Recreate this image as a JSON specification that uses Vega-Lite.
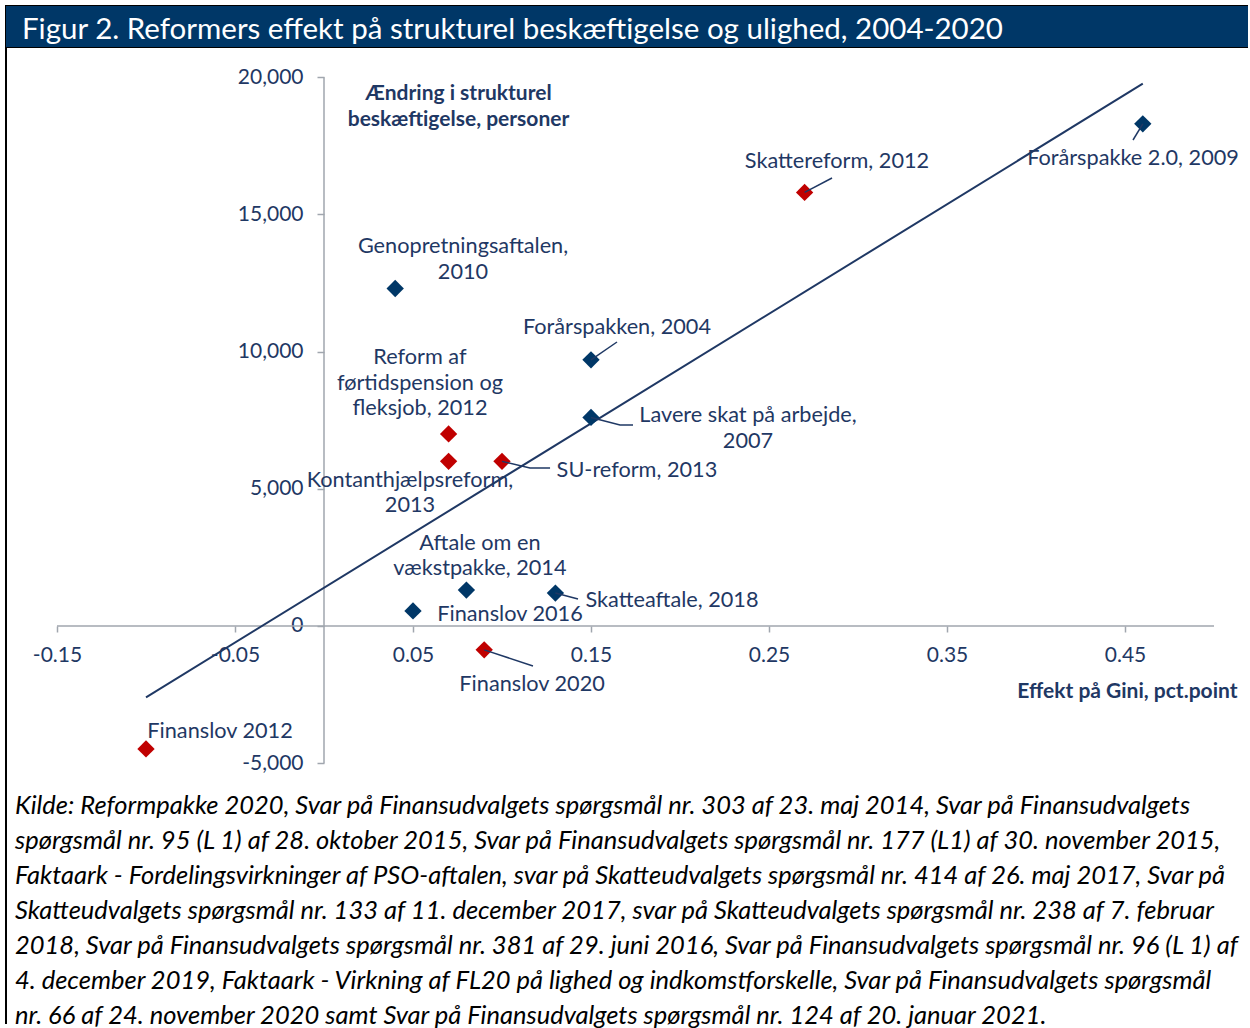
{
  "$schema": "https://vega.github.io/schema/vega-lite/v6.json",
  "background": "white",
  "padding": {"left": 5, "top": 5, "right": 0, "bottom": 0},
  "spacing": 0,
  "bounds": "flush",
  "config": {"font": "Lato", "view": {"stroke": null}},
  "datasets": {
    "reformer": [
      {"navn": "Finanslov 2012", "gini": -0.10, "beskaeftigelse": -4480, "gruppe": "rød", "etiket": "Finanslov 2012", "etiket_gini": -0.0584, "etiket_beskaeftigelse": -3827},
      {"navn": "Skattereform, 2012", "gini": 0.27, "beskaeftigelse": 15800, "gruppe": "rød", "etiket": "Skattereform, 2012", "etiket_gini": 0.2882, "etiket_beskaeftigelse": 16946},
      {"navn": "Forårspakke 2.0, 2009", "gini": 0.46, "beskaeftigelse": 18300, "gruppe": "blå", "etiket": "Forårspakke 2.0, 2009", "etiket_gini": 0.4545, "etiket_beskaeftigelse": 17055},
      {"navn": "Genopretningsaftalen, 2010", "gini": 0.04, "beskaeftigelse": 12300, "gruppe": "blå", "etiket": "Genopretningsaftalen,\n2010", "etiket_gini": 0.0781, "etiket_beskaeftigelse": 13848},
      {"navn": "Forårspakken, 2004", "gini": 0.15, "beskaeftigelse": 9700, "gruppe": "blå", "etiket": "Forårspakken, 2004", "etiket_gini": 0.1646, "etiket_beskaeftigelse": 10896},
      {"navn": "Lavere skat på arbejde, 2007", "gini": 0.15, "beskaeftigelse": 7600, "gruppe": "blå", "etiket": "Lavere skat på arbejde,\n2007", "etiket_gini": 0.2382, "etiket_beskaeftigelse": 7689},
      {"navn": "Reform af førtidspension og fleksjob, 2012", "gini": 0.07, "beskaeftigelse": 7000, "gruppe": "rød", "etiket": "Reform af\nførtidspension og\nfleksjob, 2012", "etiket_gini": 0.0539, "etiket_beskaeftigelse": 9803},
      {"navn": "Kontanthjælpsreform, 2013", "gini": 0.07, "beskaeftigelse": 6000, "gruppe": "rød", "etiket": "Kontanthjælpsreform,\n2013", "etiket_gini": 0.0483, "etiket_beskaeftigelse": 5321},
      {"navn": "SU-reform, 2013", "gini": 0.10, "beskaeftigelse": 6000, "gruppe": "rød", "etiket": "SU-reform, 2013", "etiket_gini": 0.1758, "etiket_beskaeftigelse": 5685},
      {"navn": "Aftale om en vækstpakke, 2014", "gini": 0.08, "beskaeftigelse": 1310, "gruppe": "blå", "etiket": "Aftale om en\nvækstpakke, 2014", "etiket_gini": 0.0876, "etiket_beskaeftigelse": 3025},
      {"navn": "Skatteaftale, 2018", "gini": 0.13, "beskaeftigelse": 1200, "gruppe": "blå", "etiket": "Skatteaftale, 2018", "etiket_gini": 0.1955, "etiket_beskaeftigelse": 948},
      {"navn": "Finanslov 2016", "gini": 0.05, "beskaeftigelse": 550, "gruppe": "blå", "etiket": "Finanslov 2016", "etiket_gini": 0.1045, "etiket_beskaeftigelse": 437},
      {"navn": "Finanslov 2020", "gini": 0.09, "beskaeftigelse": -870, "gruppe": "rød", "etiket": "Finanslov 2020", "etiket_gini": 0.1169, "etiket_beskaeftigelse": -2114}
    ],
    "ledere": [
      {"navn": "Skattereform, 2012", "trin": 0, "gini": 0.27, "beskaeftigelse": 15800},
      {"navn": "Skattereform, 2012", "trin": 1, "gini": 0.2854, "beskaeftigelse": 16326},
      {"navn": "Forårspakke 2.0, 2009", "trin": 0, "gini": 0.46, "beskaeftigelse": 18300},
      {"navn": "Forårspakke 2.0, 2009", "trin": 1, "gini": 0.4545, "beskaeftigelse": 17711},
      {"navn": "Forårspakken, 2004", "trin": 0, "gini": 0.15, "beskaeftigelse": 9700},
      {"navn": "Forårspakken, 2004", "trin": 1, "gini": 0.1646, "beskaeftigelse": 10350},
      {"navn": "Lavere skat på arbejde, 2007", "trin": 0, "gini": 0.15, "beskaeftigelse": 7600},
      {"navn": "Lavere skat på arbejde, 2007", "trin": 1, "gini": 0.1663, "beskaeftigelse": 7325},
      {"navn": "Lavere skat på arbejde, 2007", "trin": 2, "gini": 0.1736, "beskaeftigelse": 7325},
      {"navn": "SU-reform, 2013", "trin": 0, "gini": 0.10, "beskaeftigelse": 6000},
      {"navn": "SU-reform, 2013", "trin": 1, "gini": 0.1157, "beskaeftigelse": 5758},
      {"navn": "SU-reform, 2013", "trin": 2, "gini": 0.127, "beskaeftigelse": 5758},
      {"navn": "Skatteaftale, 2018", "trin": 0, "gini": 0.13, "beskaeftigelse": 1200},
      {"navn": "Skatteaftale, 2018", "trin": 1, "gini": 0.1427, "beskaeftigelse": 984},
      {"navn": "Finanslov 2020", "trin": 0, "gini": 0.09, "beskaeftigelse": -870},
      {"navn": "Finanslov 2020", "trin": 1, "gini": 0.1174, "beskaeftigelse": -1458}
    ],
    "akser": [
      {"akse": "x", "gini": -0.15, "gini_slut": 0.5, "beskaeftigelse": 0, "beskaeftigelse_slut": 0},
      {"akse": "y", "gini": 0, "gini_slut": 0, "beskaeftigelse": -5000, "beskaeftigelse_slut": 20000}
    ],
    "overskrift": [{"tekst": "Figur 2. Reformers effekt på strukturel beskæftigelse og ulighed, 2004-2020"}],
    "kilde": [{"tekst": "Kilde"}]
  },
  "vconcat": [
    {
      "width": 1242,
      "height": 41,
      "data": {"name": "overskrift"},
      "view": {"fill": "#003767", "stroke": "black", "strokeWidth": 2, "strokeDash": [1242, 41, 1283]},
      "mark": {"type": "rect", "color": "#003767"},
      "encoding": {},
      "title": {
        "text": "Figur 2. Reformers effekt på strukturel beskæftigelse og ulighed, 2004-2020",
        "orient": "bottom", "anchor": "start", "frame": "group", "offset": -17, "baseline": "middle", "dx": 16,
        "color": "white", "font": "Lato", "fontSize": 29.5, "fontWeight": "normal"
      }
    },
    {
      "width": 1242,
      "height": 736,
      "view": {"stroke": "black", "strokeWidth": 2, "strokeDash": [0, 3220, 736]},
      "encoding": {
        "x": {
          "field": "gini", "type": "quantitative",
          "scale": {"domain": [-0.17865, 0.5191], "nice": false, "zero": false},
          "axis": {
            "orient": "bottom", "offset": -157, "values": [-0.15, -0.05, 0.05, 0.15, 0.25, 0.35, 0.45],
            "domain": false, "grid": false, "tickSize": 6, "tickWidth": 1.5, "tickColor": "#A0A6AE",
            "labelExpr": "replace(format(datum.value, '.2f'), '\u2212', '-')",
            "labelFont": "Lato", "labelFontSize": 21, "labelColor": "#1F3864", "labelPadding": 12,
            "labelOverlap": false, "labelFlush": false,
            "title": "Effekt på Gini, pct.point", "titleX": 1231, "titleY": 65, "titleAlign": "right", "titleBaseline": "middle",
            "titleFont": "Lato", "titleFontSize": 21, "titleFontWeight": "bold", "titleColor": "#1F3864"
          }
        },
        "y": {
          "field": "beskaeftigelse", "type": "quantitative",
          "scale": {"domain": [-5721.6, 21100.5], "nice": false, "zero": false},
          "axis": {
            "orient": "left", "offset": -318, "values": [-5000, 0, 5000, 10000, 15000, 20000],
            "domain": false, "grid": false, "tickSize": 7, "tickWidth": 1.5, "tickColor": "#A0A6AE",
            "labelExpr": "replace(format(datum.value, ','), '\u2212', '-')",
            "labelFont": "Lato", "labelFontSize": 21, "labelColor": "#1F3864", "labelPadding": 14, "labelOverlap": false,
            "title": ["Ændring i strukturel", "beskæftigelse, personer"],
            "titleX": 134, "titleY": 46, "titleAngle": 0, "titleAlign": "center", "titleBaseline": "middle",
            "titleFont": "Lato", "titleFontSize": 21, "titleFontWeight": "bold", "titleColor": "#1F3864", "titleLineHeight": 26
          }
        }
      },
      "layer": [
        {
          "data": {"name": "akser"},
          "mark": {"type": "rule", "color": "#A0A6AE", "strokeWidth": 1.5},
          "encoding": {
            "x2": {"field": "gini_slut"},
            "y2": {"field": "beskaeftigelse_slut"}
          }
        },
        {
          "data": {"name": "reformer"},
          "transform": [{"regression": "beskaeftigelse", "on": "gini", "extent": [-0.1, 0.46]}],
          "mark": {"type": "line", "color": "#1F3864", "strokeWidth": 2},
          "encoding": {}
        },
        {
          "data": {"name": "reformer"},
          "mark": {"type": "point", "shape": "diamond", "filled": true, "size": 300, "opacity": 1, "strokeWidth": 0},
          "encoding": {
            "color": {"field": "gruppe", "type": "nominal", "scale": {"domain": ["blå", "rød"], "range": ["#003767", "#C00000"]}, "legend": null}
          }
        },
        {
          "data": {"name": "ledere"},
          "mark": {"type": "line", "color": "#1F3864", "strokeWidth": 1.5},
          "encoding": {
            "detail": {"field": "navn", "type": "nominal"},
            "order": {"field": "trin", "type": "ordinal"}
          }
        },
        {
          "data": {"name": "reformer"},
          "mark": {"type": "text", "font": "Lato", "fontSize": 21.7, "color": "#1F3864", "align": "center", "baseline": "middle", "lineBreak": "\n", "lineHeight": 25.5},
          "encoding": {
            "x": {"field": "etiket_gini", "type": "quantitative", "scale": {"domain": [-0.17865, 0.5191], "nice": false, "zero": false}},
            "y": {"field": "etiket_beskaeftigelse", "type": "quantitative", "scale": {"domain": [-5721.6, 21100.5], "nice": false, "zero": false}},
            "text": {"field": "etiket", "type": "nominal"}
          }
        }
      ]
    },
    {
      "width": 1242,
      "height": 241,
      "data": {"name": "kilde"},
      "view": {"stroke": "black", "strokeWidth": 2, "strokeDash": [0, 2725, 241]},
      "mark": {"type": "rect", "opacity": 0},
      "encoding": {},
      "title": {
        "text": [
          "Kilde: Reformpakke 2020, Svar på Finansudvalgets spørgsmål nr. 303 af 23. maj 2014, Svar på Finansudvalgets",
          "spørgsmål nr. 95 (L 1) af 28. oktober 2015, Svar på Finansudvalgets spørgsmål nr. 177 (L1) af 30. november 2015,",
          "Faktaark - Fordelingsvirkninger af PSO-aftalen, svar på Skatteudvalgets spørgsmål nr. 414 af 26. maj 2017, Svar på",
          "Skatteudvalgets spørgsmål nr. 133 af 11. december 2017, svar på Skatteudvalgets spørgsmål nr. 238 af 7. februar",
          "2018, Svar på Finansudvalgets spørgsmål nr. 381 af 29. juni 2016, Svar på Finansudvalgets spørgsmål nr. 96 (L 1) af",
          "4. december 2019, Faktaark - Virkning af FL20 på lighed og indkomstforskelle, Svar på Finansudvalgets spørgsmål",
          "nr. 66 af 24. november 2020 samt Svar på Finansudvalgets spørgsmål nr. 124 af 20. januar 2021."
        ],
        "orient": "top", "anchor": "start", "frame": "group", "offset": -258, "baseline": "middle", "dx": 9,
        "font": "Lato", "fontSize": 25.5, "fontStyle": "italic", "fontWeight": "normal", "color": "black", "lineHeight": 35
      }
    }
  ]
}
